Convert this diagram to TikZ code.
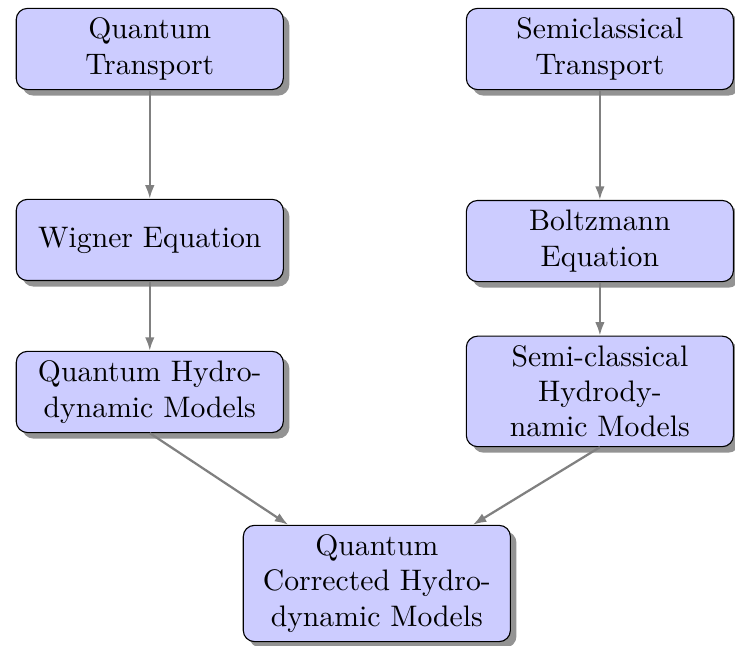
\documentclass[tikz,border=0pt]{standalone}
\usepackage{amsmath,amssymb}
\usepackage{tikz}
\usetikzlibrary{positioning,arrows.meta,calc,shadows}
\definecolor{BoxFill}{RGB}{204,204,255}
\hyphenation{corrected hydro-dy-namic}

\begin{document}
\begin{tikzpicture}[
    modelbox/.style={rectangle,draw=black,fill=BoxFill,rounded corners,
        text width=88pt,inner xsep=3.7pt,align=center,
        font=\fontsize{10.6}{12.6}\selectfont,
        minimum height=29pt,drop shadow={opacity=0.85}},
    flowline/.style={draw=gray,thick,-{Latex[length=1.7mm,width=1.2mm]}}]
            \useasboundingbox (0,0) rectangle (9.226,-8.108);
            \node[modelbox] (QT) at (1.88,-0.615) {Quantum Transport};
            \node[modelbox] (ST) at (7.53,-0.615) {Semiclassical Transport};
            \node[modelbox] (WE) at (1.88,-3.012) {Wigner Equation};
            \node[modelbox] (BE) at (7.53,-3.026) {Boltzmann Equation};
            \node[modelbox] (QHM) at (1.88,-4.92) {Quantum Hydrodynamic Models};
            \node[modelbox] (SHM) at (7.53,-4.913) {Semi-classical Hydrodynamic Models};
            \node[modelbox] (QCHM) at (4.73,-7.324) {Quantum Corrected Hydrodynamic Models};
            \path[flowline] (QT)--(WE);
            \path[flowline] (WE)--(QHM);
            \path[flowline] (ST)--(BE);
            \path[flowline] (BE)--(SHM);
            \path[flowline] (QHM.south)--(QCHM);
            \path[flowline] (SHM.south)--(QCHM);
        \end{tikzpicture}
\end{document}
